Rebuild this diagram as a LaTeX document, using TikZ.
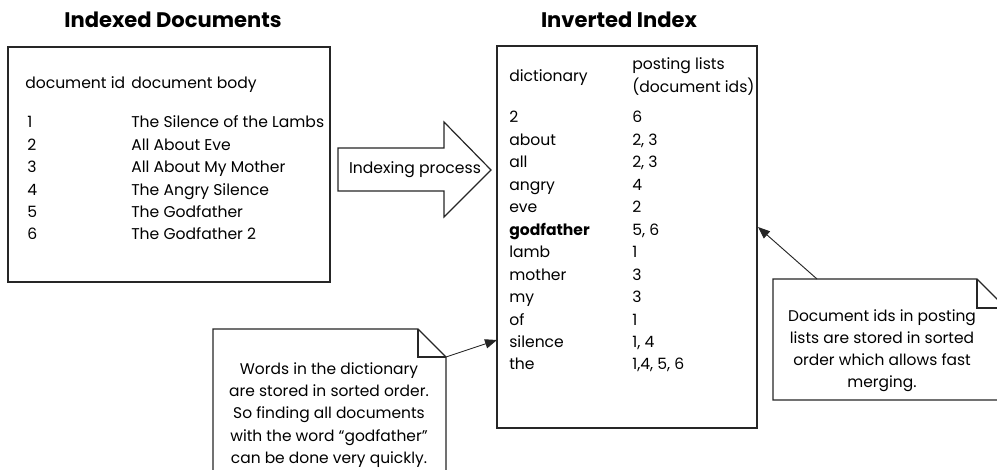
\documentclass[tikz,border=0pt]{standalone}
\usepackage{fontspec}
\setmainfont{Poppins}
\usetikzlibrary{arrows.meta}
\tikzset{
  frame/.style={draw=black!85, line width=0.9pt},
  pointer/.style={black!85, line width=0.7pt, -{Triangle[length=9pt,width=7pt]}},
  cell/.style={anchor=base west, inner sep=0pt, text=black, font=\fontsize{11.7}{16}\selectfont},
  heading/.style={anchor=base, inner sep=0pt, text=black, font=\fontsize{15.8}{18}\selectfont\bfseries},
  notetext/.style={align=center, inner sep=0pt, text=black, font=\fontsize{11.6}{16.6}\selectfont},
}
\begin{document}
\begin{tikzpicture}[x=0.75pt,y=-0.75pt]
  \clip (0,0) rectangle (997,470);
  %
  \node[heading] (doctitle) at (173,28) {Indexed Documents};
  \node[heading] (idxtitle) at (619,28) {Inverted Index};
  %
  \draw[frame] (8,47) rectangle (330,282);
  \draw[frame] (497,46) rectangle (757,428);
  %
  \node[cell] (docid) at (25,89) {document id};
  \node[cell] (docbody) at (131,89) {document body};
  \foreach \n/\t [count=\i from 0] in {1/The Silence of the Lambs, 2/All About Eve, 3/All About My Mother, 4/The Angry Silence, 5/The Godfather, 6/The Godfather 2}{
    \node[cell] (id\n) at (27,{128+22.4*\i}) {\n};
    \node[cell] (body\n) at (131,{128+22.4*\i}) {\t};
  }
  %
  \draw[frame, fill=white] (338,148) -- (444,148) -- (444,122) -- (491,170) -- (444,217) -- (444,191) -- (338,191) -- cycle;
  \node[cell, anchor=base] (process) at (415,174) {Indexing process};
  %
  \node[cell] (dicthead) at (509,82) {dictionary};
  \node[cell] (posthead) at (632,70) {posting lists};
  \node[cell] (postids) at (632,92.5) {(document ids)};
  \foreach \w/\p [count=\i from 0] in {2/6, about/{2, 3}, all/{2, 3}, angry/4, eve/2, {\textbf{godfather}}/{5, 6}, lamb/1, mother/3, my/3, of/1, silence/{1, 4}, the/{1,4, 5, 6}}{
    \node[cell] (term\i) at (509,{123+22.45*\i}) {\w};
    \node[cell] (post\i) at (632,{123+22.45*\i}) {\p};
  }
  %
  \draw[frame, fill=white] (773,279) -- (977,279) -- (1006,308) -- (1006,400) -- (773,400) -- cycle;
  \draw[frame] (977,279) -- (977,308) -- (1006,308);
  \node[notetext] (mergenote) at (882,351) {Document ids in posting\\lists are stored in sorted\\order which allows fast\\merging.};
  %
  \draw[frame, fill=white] (213,329) -- (418,329) -- (446,357) -- (446,480) -- (213,480) -- cycle;
  \draw[frame] (418,329) -- (418,357) -- (446,357);
  \node[notetext] (sortnote) at (329,415) {Words in the dictionary\\are stored in sorted order.\\So finding all documents\\with the word “godfather”\\can be done very quickly.};
  %
  \coordinate (sorttail) at (446,357);
  \coordinate (sorthead) at (497,340);
  \coordinate (mergetail) at (817,279);
  \coordinate (mergehead) at (758,227);
  \draw[pointer] (sorttail) -- (sorthead);
  \draw[pointer] (mergetail) -- (mergehead);
\end{tikzpicture}
\end{document}
